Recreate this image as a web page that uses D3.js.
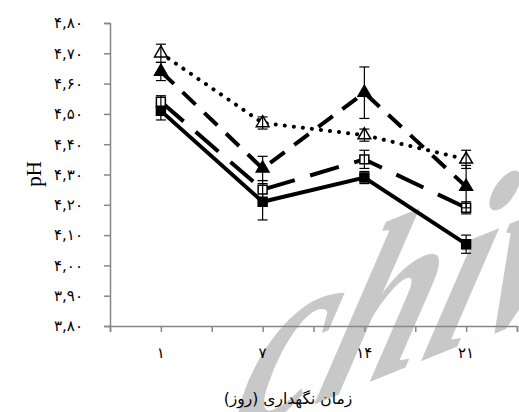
<!DOCTYPE html>
<html>
<head>
<meta charset="utf-8">
<script src="https://cdn.jsdelivr.net/npm/d3@7"></script>
<style>
  body { margin: 0; background: #fff; }
  svg { display: block; }
</style>
</head>
<body>
<svg id="chart" width="519" height="412"></svg>
<script>
// Storage days (category labels)
const days = ["۱", "۷", "۱۴", "۲۱"];

// y tick values
const yTicks = [3.8, 3.9, 4.0, 4.1, 4.2, 4.3, 4.4, 4.5, 4.6, 4.7, 4.8];

// pH values per treatment and their error bars
const openTri = [4.70, 4.47, 4.43, 4.35];
const openTriErr = [0.03, 0.02, 0.02, 0.03];
const fillTri = [4.64, 4.32, 4.57, 4.26];
const fillTriErr = [0.03, 0.04, 0.085, 0.07];
const openSq = [4.54, 4.25, 4.35, 4.19];
const openSqErr = [0.02, 0.03, 0.03, 0.02];
const fillSq = [4.51, 4.21, 4.29, 4.07];
const fillSqErr = [0.03, 0.06, 0.02, 0.03];

const faDigits = "۰۱۲۳۴۵۶۷۸۹";
const toFa = s => String(s).replace(/[0-9]/g, c => faDigits[+c]);

const svg = d3.select("#chart");

// watermark behind the chart
svg.append("text")
    .attr("transform", "translate(226,440) rotate(-22) skewX(-40)")
    .attr("font-family", "Liberation Serif")
    .attr("font-weight", "bold")
    .attr("font-style", "italic")
    .attr("font-size", 205)
    .attr("fill", "#c8c8c8")
    .text("chiv");

const x = d3.scaleBand().domain(days).range([110, 517]);
const y = d3.scaleLinear().domain([3.8, 4.8]).range([326, 23]);
const cx = d => x(d) + x.bandwidth() / 2;

// y axis
svg.append("g")
    .attr("class", "y-axis")
    .attr("transform", "translate(110,0)")
    .call(d3.axisLeft(y).tickValues(yTicks).tickSize(6).tickPadding(21)
        .tickFormat(d => toFa(d3.format(".2f")(d).replace(".", ","))));

// x axis: tick marks at category edges and centres
const half = d3.scaleLinear().domain([0, 8]).range([110, 517]);
svg.append("g")
    .attr("transform", "translate(0,326)")
    .call(d3.axisBottom(half).tickValues(d3.range(0, 9)).tickSize(6).tickFormat(""));

const xAxis = svg.append("g")
    .attr("class", "x-axis")
    .attr("transform", "translate(0,326)")
    .call(d3.axisBottom(x).tickSize(0).tickPadding(21));
xAxis.select(".domain").remove();

svg.selectAll(".domain, .tick line")
    .attr("stroke", "#878787")
    .attr("stroke-width", 1.5);

svg.selectAll(".tick text")
    .attr("font-family", "DejaVu Sans")
    .attr("font-size", 15)
    .attr("fill", "#000");
svg.selectAll(".y-axis .tick text").attr("letter-spacing", 2);
svg.selectAll(".x-axis .tick text").attr("letter-spacing", 1.5);

// axis titles
svg.append("text")
    .attr("transform", "translate(41,174) rotate(-90)")
    .attr("text-anchor", "middle")
    .attr("font-family", "Liberation Serif")
    .attr("font-size", 21)
    .text("pH");

svg.append("text")
    .attr("x", 288)
    .attr("y", 404)
    .attr("text-anchor", "middle")
    .attr("direction", "rtl")
    .attr("font-family", "DejaVu Sans")
    .attr("font-size", 15.5)
    .text("زمان نگهداری (روز)");

const series = [
    { vals: fillSq, err: fillSqErr, dash: null, cap: "butt", marker: "square", fill: "#000" },
    { vals: openSq, err: openSqErr, dash: "30,16", cap: "butt", marker: "square", fill: "#fff" },
    { vals: fillTri, err: fillTriErr, dash: "18,12", cap: "butt", marker: "triangle", fill: "#000" },
    { vals: openTri, err: openTriErr, dash: "0.1,9", cap: "round", marker: "triangle", fill: "#fff" }
];

const line = d3.line()
    .x((d, i) => cx(days[i]))
    .y(d => y(d));

series.forEach(s => {
    svg.append("path")
        .datum(s.vals)
        .attr("d", line)
        .attr("fill", "none")
        .attr("stroke", "#000")
        .attr("stroke-width", 4)
        .attr("stroke-linecap", s.cap)
        .attr("stroke-dasharray", s.dash);
});

series.forEach(s => {
    const sym = d3.symbol()
        .type(s.marker === "square" ? d3.symbolSquare : d3.symbolTriangle)
        .size(s.marker === "square" ? 80 : 70);
    svg.append("g")
        .selectAll("path")
        .data(s.vals)
        .enter()
        .append("path")
        .attr("transform", (d, i) => `translate(${cx(days[i])},${y(d)})`)
        .attr("d", sym)
        .attr("fill", s.fill)
        .attr("stroke", "#000")
        .attr("stroke-width", 1.5);

    // error bars
    const eb = svg.append("g").attr("stroke", "#000").attr("stroke-width", 1.2);
    s.vals.forEach((v, i) => {
        const px = cx(days[i]);
        const e = s.err[i];
        eb.append("line").attr("x1", px).attr("x2", px).attr("y1", y(v - e)).attr("y2", y(v + e));
        eb.append("line").attr("x1", px - 5).attr("x2", px + 5).attr("y1", y(v - e)).attr("y2", y(v - e));
        eb.append("line").attr("x1", px - 5).attr("x2", px + 5).attr("y1", y(v + e)).attr("y2", y(v + e));
    });
});
</script>
</body>
</html>
